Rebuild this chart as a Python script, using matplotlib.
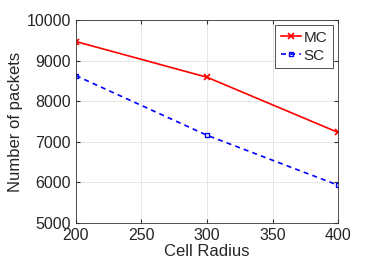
import matplotlib.pyplot as plt

plt.rcParams['font.family'] = ['Liberation Sans', 'DejaVu Sans']
plt.rcParams['text.color'] = '#262626'
plt.rcParams['axes.labelcolor'] = '#262626'

radius = [200, 300, 400]
mc = [9470, 8590, 7230]
sc = [8630, 7160, 5930]

fig = plt.figure(figsize=(3.74, 2.67), dpi=100)
ax = fig.add_axes([0.203, 0.165, 0.701, 0.76])

ax.plot(radius, mc, '-x', color='red', lw=1.2, ms=4, mew=1.2, label='MC')
ax.plot(radius, sc, '--s', color='blue', lw=1.2, ms=3.5, mfc='none', mew=1,
        dashes=(3, 2.5), label='SC')

ax.set_xlim(200, 400)
ax.set_ylim(5000, 10000)
ax.set_xticks([200, 250, 300, 350, 400])
ax.set_yticks([5000, 6000, 7000, 8000, 9000, 10000])
ax.grid(True, color='#e6e6e6', lw=0.7)
ax.tick_params(direction='in', labelsize=11.5, length=3, color='#333333',
               labelcolor='#262626', top=True, right=True)
for s in ax.spines.values():
    s.set_color('#333333')
    s.set_linewidth(0.6)

ax.set_xlabel('Cell Radius', fontsize=12, labelpad=1)
ax.set_ylabel('Number of packets', fontsize=12, labelpad=3)

leg = ax.legend(loc='upper right', fontsize=11, handlelength=1.3, handletextpad=0.2,
                borderpad=0.35, labelspacing=0.25, borderaxespad=0.35,
                fancybox=False, framealpha=1)
leg.get_frame().set_edgecolor('#333333')
leg.get_frame().set_linewidth(0.6)

fig.savefig('out.png', dpi=100)
